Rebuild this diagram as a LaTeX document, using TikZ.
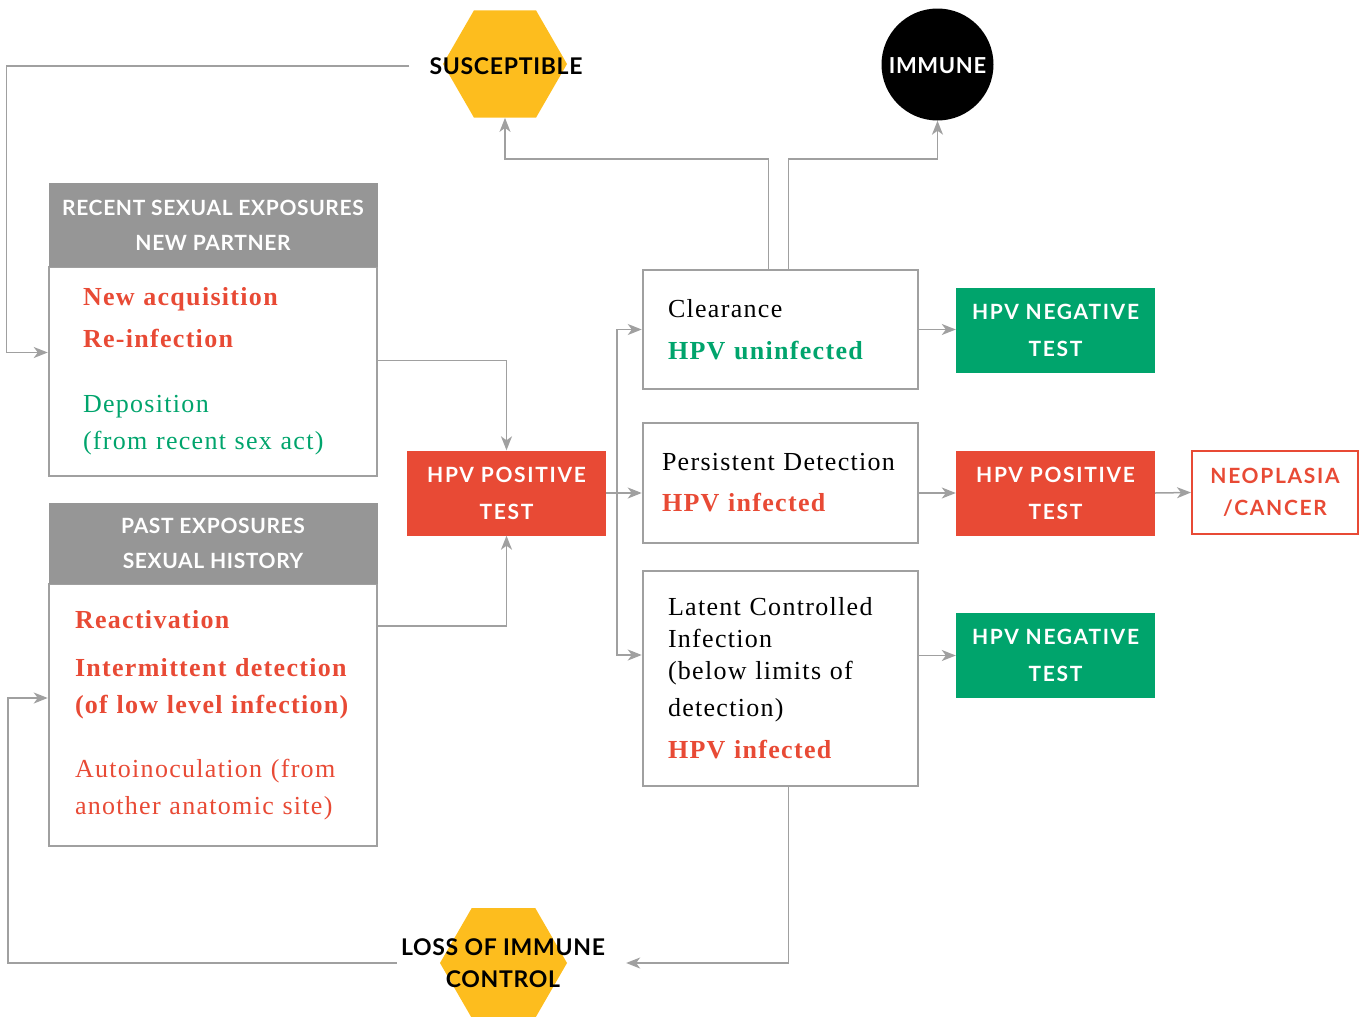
\documentclass[tikz,border=0pt]{standalone}
\usepackage{fontspec}
\usetikzlibrary{arrows.meta,shapes.geometric}
\setmainfont{Liberation Serif}[LetterSpace=5]
\newfontfamily\capsfont[LetterSpace=3]{Lato}
\newfontfamily\testfont[LetterSpace=8]{Lato}
\definecolor{hpvred}{RGB}{232,74,53}
\definecolor{hpvgreen}{RGB}{0,164,108}
\definecolor{hpvyellow}{RGB}{253,189,30}
\definecolor{hpvgray}{RGB}{150,150,150}
\definecolor{linegray}{RGB}{160,160,160}
\begin{document}
\begin{tikzpicture}[x=1pt,y=-1pt,
    arr/.style={draw=linegray,line width=1.5pt,-{Stealth[length=14pt,width=11pt,inset=4pt]}},
    hdrbox/.style={fill=hpvgray,text=white,minimum width=329pt,align=center,inner sep=0pt,
        font=\capsfont\bfseries\fontsize{21}{35}\selectfont},
    bodybox/.style={draw=linegray,line width=2.5pt,minimum width=328pt,align=left,inner sep=0pt,
        font=\fontsize{26}{37}\selectfont},
    stagebox/.style={draw=linegray,line width=2.5pt,minimum width=275pt,align=left,inner sep=0pt,
        font=\fontsize{26}{37}\selectfont},
    testbox/.style={minimum width=199pt,minimum height=85pt,text=white,align=center,inner sep=0pt,
        font=\testfont\bfseries\fontsize{21}{37}\selectfont},
    hexa/.style={regular polygon,regular polygon sides=6,fill=hpvyellow,inner sep=0pt,minimum size=#1},
    hextxt/.style={align=center,inner sep=2pt,font=\capsfont\bfseries\fontsize{23}{32}\selectfont}]
    \useasboundingbox (0,0) rectangle (1363,1017);

    % top states
    \node[hexa=124pt] (susc) at (505,64) {};
    \node[hextxt] (susctext) at (506,66) {SUSCEPTIBLE};
    \node[circle,fill=black,minimum size=112pt,inner sep=0pt,text=white,text height=18pt,
        font=\capsfont\bfseries\fontsize{22}{26}\selectfont] (immune) at (937.5,64.5) {IMMUNE};

    % exposures
    \node[bodybox,minimum height=209pt,text width=260pt] (recent) at (213,371.5) {%
        {\color{hpvred}\bfseries \mbox{New acquisition}}\\[5pt]
        {\color{hpvred}\bfseries Re-infection}\\[28pt]
        {\color{hpvgreen}Deposition}\\
        {\color{hpvgreen}\mbox{(from recent sex act)}}};
    \node[hdrbox,minimum height=84pt] (recenthead) at (213,225) {RECENT SEXUAL EXPOSURES\\NEW PARTNER};
    \node[bodybox,minimum height=262pt,text width=276pt] (past) at (213,715) {%
        {\color{hpvred}\bfseries Reactivation}\\[11pt]
        {\color{hpvred}\bfseries \mbox{Intermittent detection}}\\
        {\color{hpvred}\bfseries \mbox{(of low level infection)}}\\[27pt]
        {\color{hpvred}\mbox{Autoinoculation (from}}\\
        {\color{hpvred}\mbox{another anatomic site)}}};
    \node[hdrbox,minimum height=81pt] (pasthead) at (213,543.5) {PAST EXPOSURES\\SEXUAL HISTORY};

    \node[testbox,fill=hpvred] (pos) at (506.5,493) {HPV POSITIVE\\TEST};

    % outcomes
    \node[stagebox,minimum height=119pt,text width=225pt] (clear) at (780.5,329.5) {%
        Clearance\\[5pt]
        {\color{hpvgreen}\bfseries \mbox{HPV uninfected}}};
    \node[stagebox,minimum height=120pt,text width=237pt] (persist) at (780.5,483) {%
        \mbox{Persistent Detection}\\[4pt]
        {\color{hpvred}\bfseries HPV infected}};
    \node[stagebox,minimum height=215pt,text width=225pt] (latent) at (780.5,678.5) {%
        \mbox{Latent Controlled}\\[-5pt]
        Infection\\[-5pt]
        \mbox{(below limits of}\\
        detection)\\[5pt]
        {\color{hpvred}\bfseries HPV infected}};

    \node[testbox,fill=hpvgreen] (neg1) at (1055.5,330.5) {HPV NEGATIVE\\TEST};
    \node[testbox,fill=hpvred] (pos2) at (1055.5,493) {HPV POSITIVE\\TEST};
    \node[testbox,fill=hpvgreen] (neg2) at (1055.5,655.5) {HPV NEGATIVE\\TEST};
    \node[testbox,minimum width=166pt,minimum height=83pt,draw=hpvred,line width=2pt,
        text=hpvred,font=\testfont\bfseries\fontsize{21}{32}\selectfont] (neo) at (1275,492.5) {NEOPLASIA\\/CANCER};

    \node[hexa=127pt] (loss) at (503.5,963) {};
    \node[hextxt] (losstext) at (503,963) {LOSS OF IMMUNE\\CONTROL};

    % connectors
    \coordinate (split) at (617,493);
    \draw[arr] ([xshift=-18pt]susctext.west) -- ++(-403,0) |- ([yshift=19pt]recent.west);
    \draw[arr] ([yshift=11pt]recent.east) -| (pos.north);
    \draw[arr] ([yshift=89pt]past.east) -| (pos.south);
    \draw[arr] (pos.east) -- (persist.west |- pos.east);
    \draw[arr] (split) |- (clear.west);
    \draw[arr] (split) |- ([yshift=23.5pt]latent.west);
    \draw[arr] (clear.east) -- (clear.east -| neg1.west);
    \draw[arr] (persist.east |- pos2.west) -- (pos2.west);
    \draw[arr] (latent.east |- neg2.west) -- (neg2.west);
    \draw[arr] (pos2.east) -- (neo.west);
    \draw[arr] ([xshift=-12pt]clear.north) -- ++(0,-110) -| (susc.south);
    \draw[arr] ([xshift=8pt]clear.north) -- ++(0,-110) -| (immune.south);
    \draw[arr] ([xshift=8pt]latent.south) |- ([xshift=19pt]losstext.east);
    \draw[arr] ([xshift=-2pt]losstext.west) -- ++(-389,0) |- ([yshift=17pt]past.west);
\end{tikzpicture}
\end{document}
